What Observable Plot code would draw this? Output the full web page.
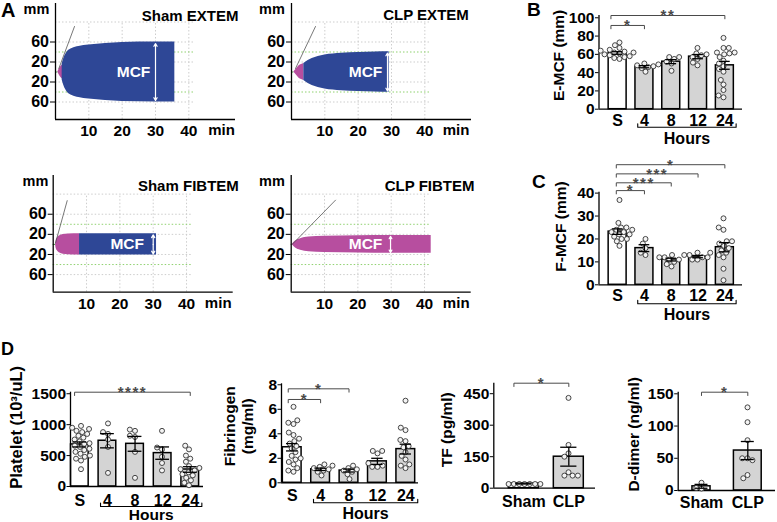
<!DOCTYPE html>
<html><head><meta charset="utf-8">
<script src="https://cdn.jsdelivr.net/npm/d3@7"></script>
<script src="https://cdn.jsdelivr.net/npm/@observablehq/plot@0.6"></script>
<style>
html,body{margin:0;padding:0;background:#fff;}
#fig{position:relative;width:777px;height:522px;overflow:hidden;background:#fff;font-family:'Liberation Sans',Arial,Helvetica,sans-serif;font-weight:bold;color:#000;}
#fig svg{position:absolute;left:0;top:0;}
.letter{position:absolute;font-weight:bold;line-height:1;}
</style></head><body>
<div id="fig">
  <div class="letter" style="left:1px;top:0px;font-size:20px">A</div>
  <div class="letter" style="left:527px;top:0px;font-size:19px">B</div>
  <div class="letter" style="left:532px;top:172px;font-size:19px">C</div>
  <div class="letter" style="left:1px;top:340px;font-size:18px">D</div>
</div>
<script>
// ---------------- DATA ----------------
// Panel A: ROTEM traces (time in min, half-amplitude in mm)
const rotemTicksY = [60, 20, -20, -60];
const rotemTicksX = [10, 20, 30, 40];

const shamExtemPinkT = [0.7, 1.4, 2.1];
const shamExtemPinkA = [0, 9, 14];
const shamExtemBlueT = [2.0, 2.5, 3.5, 5, 7, 10, 15, 20, 30, 35.8];
const shamExtemBlueA = [16, 27, 40, 47, 51, 54, 57, 59, 60, 60];
const shamExtemTanT = [1.0, 5.7];
const shamExtemTanA = [7, 91];
const shamExtemMcf = [30, 57];

const clpExtemPinkT = [0.7, 1.2, 1.7, 2.2, 3.0, 3.7];
const clpExtemPinkA = [0, 4, 8, 12, 15, 17];
const clpExtemBlueT = [3.7, 5, 6.2, 8, 10, 15, 20, 25, 29.3];
const clpExtemBlueA = [17, 23, 27, 31, 34, 37.5, 39, 40, 40.5];
const clpExtemTanT = [1.2, 7.2];
const clpExtemTanA = [7, 91];
const clpExtemMcf = [28.8, 38];

const shamFibPinkT = [0.7, 0.9, 1.3, 2.0, 3.0, 4.5, 7.9];
const shamFibPinkA = [0, 8, 13, 17, 19.5, 20.5, 21];
const shamFibBlueT = [7.9, 31];
const shamFibBlueA = [21, 21];
const shamFibTanT = [0.7, 4.2];
const shamFibTanA = [3, 87];
const shamFibMcf = [30, 19];

const clpFibPinkT = [0.3, 0.8, 1.3, 2.8, 5.3, 10, 20, 30, 42];
const clpFibPinkA = [0, 4, 7, 11.5, 14.5, 16, 17, 17.5, 17.5];
const clpFibTanT = [0.3, 13.3];
const clpFibTanA = [0, 88];
const clpFibMcf = [29.8, 16];

// Groups
const hourGroups = ["S", "4", "8", "12", "24"];
const shamClpGroups = ["Sham", "CLP"];

// Panel B: E-MCF (mm)
const emcfTicks = [0, 20, 40, 60, 80, 100];
const emcfMean = [61.5, 46.5, 52, 57.5, 48];
const emcfSem = [1.4, 1.2, 2.2, 2.3, 4.3];
const emcfDots = [
  [55, 56, 57, 58, 59, 60, 61, 62, 62, 63, 64, 65, 67, 70, 73],
  [41, 45, 46, 47, 48, 49, 50],
  [42, 50, 52, 55, 57, 57],
  [48, 51, 55, 57, 59, 60, 61, 67],
  [13, 15, 21, 27, 32, 41, 44, 47, 50, 53, 57, 60, 61, 62, 62, 67, 67, 78]
];
const emcfSig = [[0, 1, 91.6, "*"], [0, 4, 102.5, "**"]];

// Panel C: F-MCF (mm)
const fmcfTicks = [0, 10, 20, 30, 40];
const fmcfMean = [23.2, 16, 11, 12.3, 16.4];
const fmcfSem = [1.2, 1.5, 0.6, 0.5, 2.0];
const fmcfDots = [
  [17, 19, 20, 20, 21, 22, 22, 23, 23, 24, 24, 25, 25, 27, 37],
  [13, 14, 16, 18, 20],
  [8, 9, 10, 11, 11, 12, 12, 13],
  [11, 11, 12, 12, 13, 13, 14, 14],
  [2, 7, 12, 13, 14, 15, 16, 17, 18, 19, 19, 24, 25, 29]
];
const fmcfSig = [[0, 1, 41.1, "*"], [0, 2, 44.5, "***"], [0, 3, 48.4, "***"], [0, 4, 52.4, "*"]];

// Panel D: Platelet (10^3/uL)
const pltTicks = [0, 500, 1000, 1500];
const pltMean = [680, 740, 690, 540, 275];
const pltSem = [40, 115, 120, 100, 45];
const pltDots = [
  [280, 420, 450, 480, 500, 530, 560, 590, 610, 640, 660, 690, 700, 730, 760, 790, 820, 850, 880, 900, 930, 950, 980],
  [220, 640, 760, 850, 880, 1020],
  [140, 560, 800, 820, 900, 920],
  [260, 380, 480, 600, 630, 900],
  [20, 60, 100, 140, 180, 200, 230, 260, 280, 300, 330, 400, 450, 500, 600, 660]
];
const pltSig = [[0, 4, 1525, "****"]];

// Panel D: Fibrinogen (mg/ml)
const fibTicks = [0, 2, 4, 6, 8];
const fibMean = [2.9, 1.1, 1.0, 1.75, 2.75];
const fibSem = [0.3, 0.1, 0.12, 0.25, 0.4];
const fibDots = [
  [0.9, 1.0, 1.2, 1.5, 1.7, 1.9, 2.0, 2.2, 2.5, 2.8, 3.0, 3.2, 3.4, 3.6, 3.9, 4.1, 4.8, 4.9, 5.1, 6.2],
  [0.6, 0.9, 1.0, 1.1, 1.2, 1.3, 1.4, 1.5],
  [0.3, 0.7, 0.9, 1.0, 1.1, 1.2, 1.4],
  [1.3, 1.3, 1.4, 1.6, 2.4, 2.6, 2.6],
  [1.2, 1.4, 1.5, 1.9, 2.2, 2.5, 2.9, 3.0, 3.4, 3.5, 4.3, 4.5, 6.7]
];
const fibSig = [[0, 1, 6.8, "*"], [0, 2, 7.67, "*"]];

// Panel D: TF (pg/ml)
const tfTicks = [0, 150, 300, 450];
const tfMean = [22, 150];
const tfSem = [2, 45];
const tfDots = [[20, 20, 20, 20, 20, 20, 20], [430, 206, 166, 150, 76, 60, 60, 60]];
const tfSig = [[0, 1, 500, "*"]];

// Panel D: D-dimer (ng/ml)
const ddTicks = [0, 50, 100, 150];
const ddMean = [6.5, 62];
const ddSem = [3, 14];
const ddDots = [[3, 4, 12], [129, 106, 78, 50, 50, 47, 24, 19]];
const ddSig = [[0, 1, 152.5, "*"]];

// ---------------- STYLE / LAYOUT ----------------
const W = 777, H = 522;
const FONT = "'Liberation Sans', Arial, Helvetica, sans-serif";
const BLUE = "#2e4796", PINK = "#b74e9f", GRID = "#cdcdcd", GREEN = "#8fd16f", BAR_GRAY = "#d4d4d4";
const fig = document.getElementById("fig");

function layer(opts, extraStyle = {}) {
  return Plot.plot({
    width: W, height: H,
    style: {background: "transparent", fontFamily: FONT, fontWeight: "bold", color: "black", overflow: "visible", ...extraStyle},
    ...opts
  });
}

function rotemPanel(p) {
  const pink = p.pinkT.map((t, i) => ({t, a: p.pinkA[i]}));
  const blue = p.blueT ? p.blueT.map((t, i) => ({t, a: p.blueA[i]})) : [];
  const tang = p.tanT.map((t, i) => ({t, a: p.tanA[i]}));
  const [L, T, R, B] = p.frame;
  const yd = [-95, 137];
  const svg = layer({
    marginLeft: L, marginTop: T, marginRight: W - R, marginBottom: H - B,
    x: {domain: [0, 54]}, y: {domain: yd},
    marks: [
      Plot.ruleX(rotemTicksX, {y1: yd[0], y2: 100, stroke: GRID, strokeDasharray: "1.5,2"}),
      Plot.ruleY([100, ...rotemTicksY], {x1: 0, x2: 42, stroke: GRID, strokeDasharray: "1.5,2"}),
      Plot.ruleY([40, -40], {x1: 0, x2: 42, stroke: GREEN, strokeDasharray: "1.5,2"}),
      Plot.ruleY([0], {x1: 0, x2: p.pinkT[0], stroke: "#3f9e3f", strokeWidth: 1}),
      Plot.areaY(pink, {x: "t", y1: d => -d.a, y2: "a", fill: PINK, curve: "monotone-x"}),
      Plot.areaY(blue, {x: "t", y1: d => -d.a, y2: "a", fill: BLUE, curve: "monotone-x"}),
      Plot.line(tang, {x: "t", y: "a", stroke: "#555", strokeWidth: 0.8}),
      Plot.arrow([p.mcf], {x1: d => d[0], x2: d => d[0], y1: () => 0, y2: d => d[1], stroke: "white", strokeWidth: 1.2, headLength: 4}),
      Plot.arrow([p.mcf], {x1: d => d[0], x2: d => d[0], y1: () => 0, y2: d => -d[1], stroke: "white", strokeWidth: 1.2, headLength: 4}),
      Plot.text(["MCF"], {x: () => p.mcfLabelT, y: () => 0, fill: "white", fontSize: 15.5, lineAnchor: "middle"}),
      Plot.ruleX([0], {y1: yd[0], y2: yd[1], stroke: "black", strokeWidth: 1.3}),
      Plot.ruleY([yd[0]], {x1: 0, x2: 54, stroke: "black", strokeWidth: 1.3}),
      Plot.axisY({ticks: rotemTicksY, tickFormat: d => String(Math.abs(d)), tickSize: 5, tickPadding: 1.5, fontSize: 16, label: null}),
      Plot.axisX({ticks: rotemTicksX, tickFormat: d => String(d), tickSize: 0, tickPadding: 5.5, fontSize: 15.5, label: null}),
      Plot.text([p.title], {frameAnchor: "top-right", textAnchor: "end", dx: p.titleDx, dy: p.titleDy, fontSize: 15, lineAnchor: "middle"}),
      Plot.text(["mm"], {frameAnchor: "top-left", textAnchor: "middle", dx: p.mmDx, dy: 5.5, fontSize: 14.5, lineAnchor: "middle"}),
      Plot.text(["min"], {frameAnchor: "bottom-right", textAnchor: "middle", dx: p.minDx, dy: 10.5, fontSize: 15, lineAnchor: "middle"})
    ]
  });
  fig.appendChild(svg);
}

function barPanel(p) {
  const n = p.groups.length, idx = d3.range(n);
  const [L, T, R, B] = p.frame;
  const u = (p.yDomain[1] - p.yDomain[0]) / (B - T); // data units per pixel
  const margins = {marginLeft: L, marginTop: T, marginRight: W - R, marginBottom: H - B};
  const bars = idx.map(i => ({i, m: p.means[i], s: p.sems[i], hw: p.barHalf(i)}));
  const x0 = p.xDomain[0];
  const brs = p.sig.map(([a, b, v, lab], k) => ({k, a: a + p.sigShift, b, v, lab}));
  const drop = 3.3 * u;
  const brLine = brs.flatMap(d => [
    {k: d.k, x: d.a, y: d.v - drop}, {k: d.k, x: d.a, y: d.v},
    {k: d.k, x: d.b, y: d.v}, {k: d.k, x: d.b, y: d.v - drop}
  ]);
  const marks = [
    Plot.rectY(bars.filter(d => d.i === 0), {x1: d => d.i - d.hw, x2: d => d.i + d.hw, y1: 0, y2: "m", fill: "white", stroke: "black", strokeWidth: 1.5}),
    Plot.rectY(bars.filter(d => d.i > 0), {x1: d => d.i - d.hw, x2: d => d.i + d.hw, y1: 0, y2: "m", fill: BAR_GRAY, stroke: "black", strokeWidth: 1.5}),
    Plot.ruleX([x0], {y1: p.yDomain[0], y2: p.yDomain[1], stroke: "black", strokeWidth: 1.3}),
    Plot.ruleY([0], {x1: x0, x2: p.xDomain[1], stroke: "black", strokeWidth: 1.3}),
    Plot.axisY({ticks: p.yTicks, tickFormat: d => String(d), tickSize: 3.5, tickPadding: 1, fontSize: 15.5, label: null}),
    Plot.axisX({ticks: idx, tickFormat: i => p.groups[i], tickSize: 0, tickPadding: p.tickPad, fontSize: 16, label: null}),
    Plot.line(brLine, {x: "x", y: "y", z: "k", stroke: "#4a4a4a", strokeWidth: 1}),
    Plot.text([p.yLabel], {frameAnchor: "left", textAnchor: "middle", dx: p.labelDx, dy: p.labelDy, rotate: -90, fontSize: p.labelSize || 15.5, lineHeight: 1.15, lineAnchor: "middle"})
  ];
  if (p.hours) {
    const [h0, h1] = p.hours;
    const [bPx, tPx] = p.hoursPx;
    const yb = -bPx * u, yt = -(bPx - 3.5) * u;
    marks.push(Plot.line([{x: h0, y: yt}, {x: h0, y: yb}, {x: h1, y: yb}, {x: h1, y: yt}], {x: "x", y: "y", stroke: "black", strokeWidth: 1.1}));
    marks.push(Plot.text(["Hours"], {x: () => (h0 + h1) / 2, y: () => -tPx * u, fontSize: p.hoursSize || 16, lineAnchor: "middle"}));
  }
  const base = layer({...margins, x: {domain: p.xDomain}, y: {domain: p.yDomain}, marks});
  fig.appendChild(base);

  const sx = base.scale("x");
  const fl = sx.apply(-0.5), fr = sx.apply(n - 0.5);
  const pts = p.dots.flatMap((arr, i) => arr.map(v => ({g: p.groups[i], v})));
  const dots = layer({
    marginLeft: fl, marginRight: W - fr, marginTop: T, marginBottom: H - B,
    fx: {domain: p.groups, padding: 0, axis: null},
    y: {domain: p.yDomain, axis: null},
    marks: [
      Plot.dot(pts, Plot.dodgeX({anchor: "middle", padding: 0.3}, {fx: "g", y: "v", r: 2.5, fill: "#f4f4f4", stroke: "#333", strokeWidth: 0.9}))
    ]
  });
  fig.appendChild(dots);

  const err = layer({
    ...margins, x: {domain: p.xDomain, axis: null}, y: {domain: p.yDomain, axis: null},
    marks: [
      Plot.ruleX(bars, {x: "i", y1: d => d.m - d.s, y2: d => d.m + d.s, stroke: "black", strokeWidth: 1.3}),
      Plot.ruleY(bars, {x1: d => d.i - p.cap, x2: d => d.i + p.cap, y: d => d.m + d.s, stroke: "black", strokeWidth: 1.3}),
      Plot.ruleY(bars, {x1: d => d.i - p.cap, x2: d => d.i + p.cap, y: d => d.m - d.s, stroke: "black", strokeWidth: 1.3}),
      Plot.text(brs, {x: d => (d.a + d.b) / 2, y: "v", text: "lab", fill: "#4a4a4a", fontSize: 15, lineAnchor: "middle"})
    ]
  }, {letterSpacing: "1.5px"});
  fig.appendChild(err);
}

// ---------------- PANEL A ----------------
rotemPanel({frame: [55, 3, 235, 119], title: "Sham EXTEM", titleDx: 3, titleDy: 12.3, mmDx: -19, minDx: -14,
  pinkT: shamExtemPinkT, pinkA: shamExtemPinkA, blueT: shamExtemBlueT, blueA: shamExtemBlueA,
  tanT: shamExtemTanT, tanA: shamExtemTanA, mcf: shamExtemMcf, mcfLabelT: 23.4});
rotemPanel({frame: [291, 3, 471, 119], title: "CLP EXTEM", titleDx: -2.7, titleDy: 12, mmDx: -19.5, minDx: -15.5,
  pinkT: clpExtemPinkT, pinkA: clpExtemPinkA, blueT: clpExtemBlueT, blueA: clpExtemBlueA,
  tanT: clpExtemTanT, tanA: clpExtemTanA, mcf: clpExtemMcf, mcfLabelT: 22.2});
rotemPanel({frame: [52.7, 175, 232.7, 291.7], title: "Sham FIBTEM", titleDx: 5.6, titleDy: 11, mmDx: -17.7, minDx: -15,
  pinkT: shamFibPinkT, pinkA: shamFibPinkA, blueT: shamFibBlueT, blueA: shamFibBlueA,
  tanT: shamFibTanT, tanA: shamFibTanA, mcf: shamFibMcf, mcfLabelT: 22.2});
rotemPanel({frame: [290.7, 175, 470.7, 291.7], title: "CLP FIBTEM", titleDx: 3.3, titleDy: 11, mmDx: -19.2, minDx: -15,
  pinkT: clpFibPinkT, pinkA: clpFibPinkA, blueT: null, blueA: null,
  tanT: clpFibTanT, tanA: clpFibTanA, mcf: clpFibMcf, mcfLabelT: 22.3});

// ---------------- PANELS B, C, D ----------------
barPanel({groups: hourGroups, means: emcfMean, sems: emcfSem, dots: emcfDots, sig: emcfSig, sigShift: -0.25,
  yDomain: [0, 102.5], yTicks: emcfTicks, frame: [598.5, 15, 742, 108.7], xDomain: [-0.695, 4.658],
  barHalf: () => 0.335, cap: 0.2, tickPad: 5.5, yLabel: "E-MCF (mm)", labelDx: -40.5, labelDy: -7,
  hours: [0.75, 4.42], hoursPx: [18, 29.5]});
barPanel({groups: hourGroups, means: fmcfMean, sems: fmcfSem, dots: fmcfDots, sig: fmcfSig, sigShift: -0.05,
  yDomain: [0, 40.4], yTicks: fmcfTicks, frame: [598.5, 191.7, 742, 284.3], xDomain: [-0.695, 4.658],
  barHalf: () => 0.335, cap: 0.2, tickPad: 5, yLabel: "F-MCF (mm)", labelDx: -38.5, labelDy: -12,
  hours: [0.75, 4.42], hoursPx: [19, 29.7]});
barPanel({groups: hourGroups, means: pltMean, sems: pltSem, dots: pltDots, sig: pltSig, sigShift: -0.19,
  yDomain: [0, 1525], yTicks: pltTicks, frame: [70, 391.7, 203, 486], xDomain: [-0.338, 4.48],
  barHalf: () => 0.32, cap: 0.25, tickPad: 8, yLabel: "Platelet (10³/uL)", labelDx: -55, labelDy: -12, labelSize: 16.5,
  hours: [0.75, 4.42], hoursPx: [20, 29], hoursSize: 15.5});
barPanel({groups: hourGroups, means: fibMean, sems: fibSem, dots: fibDots, sig: fibSig, sigShift: -0.14,
  yDomain: [0, 8.08], yTicks: fibTicks, frame: [281, 383.3, 418, 482.3], xDomain: [-0.377, 4.447],
  barHalf: () => 0.33, cap: 0.2, tickPad: 6.5, yLabel: "Fibrinogen\n(mg/ml)", labelDx: -43.5, labelDy: -7,
  hours: [0.75, 4.42], hoursPx: [20, 31]});
barPanel({groups: shamClpGroups, means: tfMean, sems: tfSem, dots: tfDots, sig: tfSig, sigShift: -0.22,
  yDomain: [0, 500], yTicks: tfTicks, frame: [493.3, 382.7, 595, 487.7], xDomain: [-0.667, 1.593],
  barHalf: () => 0.333, cap: 0.18, tickPad: 7, yLabel: "TF (pg/ml)", labelDx: -48, labelDy: -6,
  hours: null});
barPanel({groups: shamClpGroups, means: ddMean, sems: ddSem, dots: ddDots, sig: ddSig, sigShift: 0,
  yDomain: [0, 152.5], yTicks: ddTicks, frame: [677.7, 391.7, 775, 490], xDomain: [-0.503, 1.598],
  barHalf: i => (i === 0 ? 0.195 : 0.3), cap: 0.14, tickPad: 6.5, yLabel: "D-dimer (ng/ml)", labelDx: -45, labelDy: -7,
  hours: null});
</script>
</body></html>
